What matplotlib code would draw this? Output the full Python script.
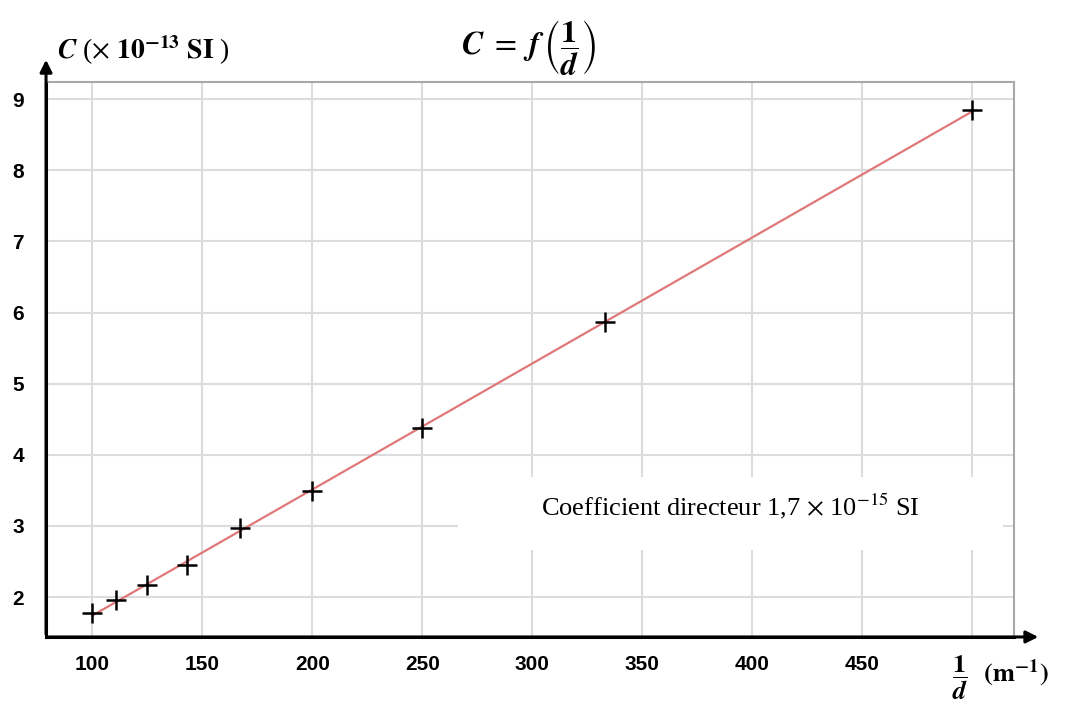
import numpy as np
import matplotlib
matplotlib.use("Agg")
from matplotlib import pyplot as plt
from matplotlib.patches import Rectangle

# data
inv_d = [100, 111, 125, 143, 167, 200, 250, 333, 500]
capa = [1.77, 1.96, 2.17, 2.45, 2.97, 3.49, 4.38, 5.86, 8.84]
x_ticks = [100, 150, 200, 250, 300, 350, 400, 450, 500]
x_tick_labels = ["100", "150", "200", "250", "300", "350", "400", "450", ""]
y_ticks = [2, 3, 4, 5, 6, 7, 8, 9]

plt.rcParams['mathtext.fontset'] = 'stix'
plt.rcParams['font.family'] = 'Liberation Sans'

fig = plt.figure(figsize=(10.68, 7.05), dpi=100)
ax = fig.add_axes([0.0431, 0.0965, 0.9063, 0.7872])

# regression line
a, b = np.polyfit(inv_d, capa, 1)
xs = np.array([min(inv_d), max(inv_d)])
ax.plot(xs, a * xs + b, color='#e07878', lw=1.6, zorder=2)
ax.plot(inv_d, capa, ls='none', marker='+', color='black', ms=15, mew=1.8, zorder=3)

ax.set_xlim(79, 519)
ax.set_ylim(1.44, 9.24)
ax.set_xticks(x_ticks)
ax.set_xticklabels(x_tick_labels)
ax.set_yticks(y_ticks)
ax.tick_params(length=0, labelsize=15)
ax.tick_params(axis='x', pad=13)
ax.tick_params(axis='y', pad=16)
for lab in ax.get_xticklabels() + ax.get_yticklabels():
    lab.set_fontweight('bold')

ax.set_axisbelow(True)
ax.grid(True, color='#dcdcdc', lw=1.5)

for s in ['top', 'right']:
    ax.spines[s].set_color('#a8a8a8')
    ax.spines[s].set_linewidth(1.5)
for s in ['left', 'bottom']:
    ax.spines[s].set_linewidth(2.2)

# axis arrows
ax.annotate('', xy=(1.028, 0), xytext=(0, 0), xycoords='axes fraction',
            arrowprops=dict(arrowstyle='-|>', color='black', lw=2.2, mutation_scale=18),
            annotation_clip=False)
ax.annotate('', xy=(0, 1.045), xytext=(0, 0), xycoords='axes fraction',
            arrowprops=dict(arrowstyle='-|>', color='black', lw=2.2, mutation_scale=18),
            annotation_clip=False)

# white box with slope text
ax.add_patch(Rectangle((0.4256, 0.157), 0.563, 0.1315, transform=ax.transAxes,
                       facecolor='white', edgecolor='none', zorder=1))
ax.text(0.7066, 0.236, r'Coefficient directeur 1,7 $\times$ 10$^{-15}$ SI',
        transform=ax.transAxes, ha='center', va='center', fontsize=19,
        family='Liberation Serif', zorder=4)

# labels and title
fig.text(57 / 1068, 1 - 50 / 705,
         r'$\mathbfit{C}$ ($\times$ $\mathbf{10^{-13}}$ $\mathbf{SI}$ )',
         ha='left', va='center', fontsize=20, family='Liberation Serif')
fig.text(529 / 1068, 1 - 48 / 705,
         r'$\mathbfit{C}\ =\ \mathbfit{f}\,\left(\dfrac{\mathbf{1}}{\mathbfit{d}}\right)$',
         ha='center', va='center', fontsize=23)
fig.text(952 / 1068, 1 - 678 / 705,
         r'$\dfrac{\mathbf{1}}{\mathbfit{d}}$  $\mathbf{(m^{-1})}$',
         ha='left', va='center', fontsize=19)

plt.savefig("out.png", dpi=100)
